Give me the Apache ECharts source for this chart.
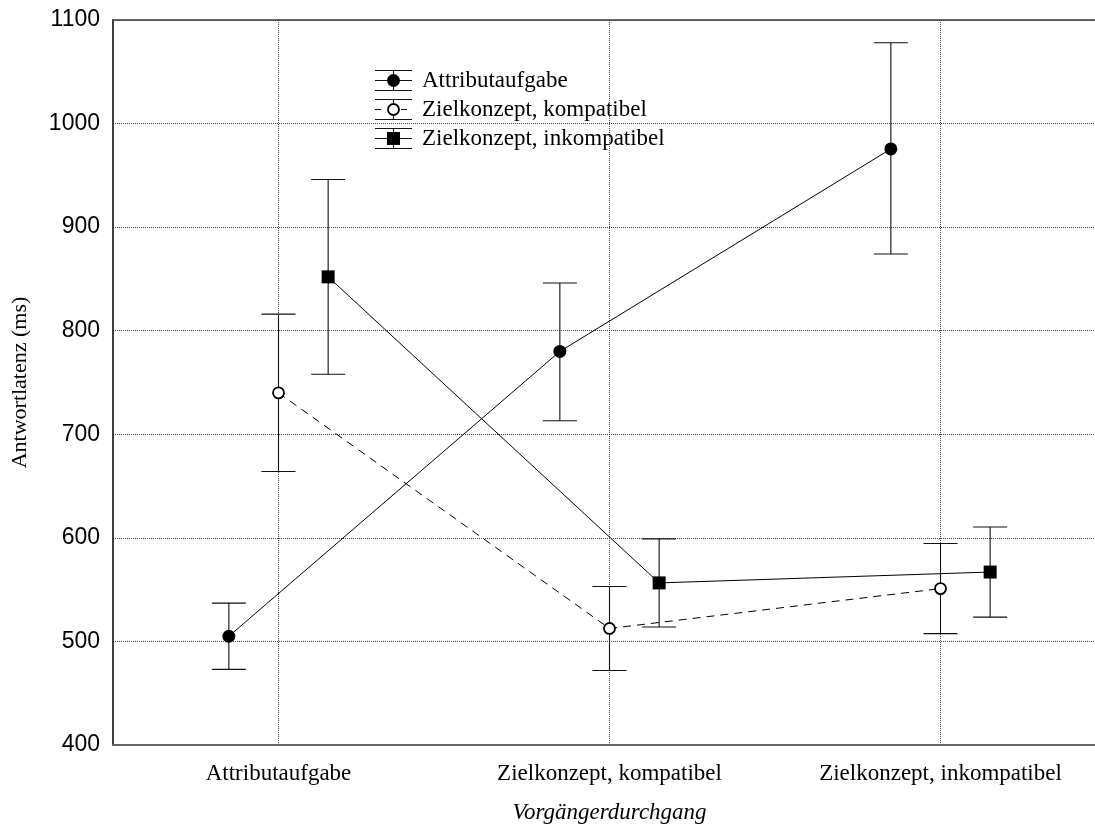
<!DOCTYPE html>
<html>
<head>
<meta charset="utf-8">
<title>Antwortlatenz nach Vorgängerdurchgang</title>
<script src="https://cdn.jsdelivr.net/npm/echarts@6/dist/echarts.min.js"></script>
<style>
  html, body { margin: 0; padding: 0; background: #fff; overflow: hidden; width: 1095px; height: 825px; }
  /* the canvas is a little wider than the page: the plot box runs past the right edge */
  #chart { width: 1110px; height: 825px; }
</style>
</head>
<body>
<div id="chart"></div>
<script>
// Vorgängerdurchgang (x categories)
const categories = ['Attributaufgabe', 'Zielkonzept, kompatibel', 'Zielkonzept, inkompatibel'];

// Mittelwerte und Fehlerbalken (ms), je Bedingung des aktuellen Durchgangs
const seriesNames = ['Attributaufgabe', 'Zielkonzept, kompatibel', 'Zielkonzept, inkompatibel'];

const attributMean = [505, 780, 975.5];
const attributLow = [473, 713, 874];
const attributHigh = [537, 846, 1078];

const kompatibelMean = [740, 512.5, 551];
const kompatibelLow = [664, 472, 507.5];
const kompatibelHigh = [816, 553, 594.5];

const inkompatibelMean = [852, 556.5, 567];
const inkompatibelLow = [758, 514, 523.5];
const inkompatibelHigh = [946, 599, 610.5];

const yTicks = [400, 500, 600, 700, 800, 900, 1000, 1100];

// horizontal shift of each series inside a category slot
const slotOffset = [-0.15, 0, 0.15];

const serif = '"Liberation Serif", "Times New Roman", serif';
const sans = '"Liberation Sans", Arial, sans-serif';

function points(means, k) {
  return means.map((v, i) => [i + 1 + slotOffset[k], v]);
}
function bars(lows, highs, k) {
  return lows.map((lo, i) => [i + 1 + slotOffset[k], lo, highs[i]]);
}

function renderErrorBar(params, api) {
  const x = api.value(0);
  const lo = api.coord([x, api.value(1)]);
  const hi = api.coord([x, api.value(2)]);
  const half = 17;
  const style = { stroke: '#111', lineWidth: 1.1 };
  return {
    type: 'group',
    children: [
      { type: 'line', shape: { x1: lo[0], y1: lo[1], x2: hi[0], y2: hi[1] }, style },
      { type: 'line', shape: { x1: hi[0] - half, y1: hi[1], x2: hi[0] + half, y2: hi[1] }, style },
      { type: 'line', shape: { x1: lo[0] - half, y1: lo[1], x2: lo[0] + half, y2: lo[1] }, style }
    ]
  };
}

const lineSeries = [
  { means: attributMean, lows: attributLow, highs: attributHigh, symbol: 'circle', size: 13, fill: '#000', dash: 'solid' },
  { means: kompatibelMean, lows: kompatibelLow, highs: kompatibelHigh, symbol: 'circle', size: 11, fill: '#fff', dash: [8, 6] },
  { means: inkompatibelMean, lows: inkompatibelLow, highs: inkompatibelHigh, symbol: 'rect', size: 13, fill: '#000', dash: 'solid' }
];

const series = [];
lineSeries.forEach((s, k) => {
  series.push({
    name: seriesNames[k] + ' (Fehler)',
    type: 'custom',
    renderItem: renderErrorBar,
    data: bars(s.lows, s.highs, k),
    encode: { x: 0, y: [1, 2] },
    z: 2,
    silent: true
  });
});
lineSeries.forEach((s, k) => {
  series.push({
    name: seriesNames[k],
    type: 'line',
    data: points(s.means, k),
    symbol: s.symbol,
    symbolSize: s.size,
    showAllSymbol: true,
    lineStyle: { color: '#000', width: 1, type: s.dash },
    itemStyle: { color: s.fill, borderColor: '#000', borderWidth: s.fill === '#fff' ? 1.8 : 0 },
    z: 3,
    silent: true
  });
});

// legend: icon with error-bar caps, line and marker, followed by the series name
const legendX = 393.5, legendTextX = 422, legendRows = [80.5, 109.5, 138.5], legendHalf = 18.5, legendCap = 10;
const legendChildren = [];
lineSeries.forEach((s, k) => {
  const y = legendRows[k];
  const st = { stroke: '#111', lineWidth: 1.1 };
  legendChildren.push(
    { type: 'line', shape: { x1: legendX - legendHalf, y1: y - legendCap, x2: legendX + legendHalf, y2: y - legendCap }, style: st },
    { type: 'line', shape: { x1: legendX - legendHalf, y1: y + legendCap, x2: legendX + legendHalf, y2: y + legendCap }, style: st },
    { type: 'line', shape: { x1: legendX, y1: y - legendCap, x2: legendX, y2: y + legendCap }, style: st },
    { type: 'line', shape: { x1: legendX - legendHalf, y1: y, x2: legendX + legendHalf, y2: y },
      style: { stroke: '#111', lineWidth: 1.1, lineDash: s.dash === 'solid' ? null : [6, 7] } }
  );
  if (s.symbol === 'rect') {
    legendChildren.push({ type: 'rect', shape: { x: legendX - 6.5, y: y - 6.5, width: 13, height: 13 }, style: { fill: '#000' } });
  } else {
    legendChildren.push({ type: 'circle', shape: { cx: legendX, cy: y, r: s.fill === '#fff' ? 5.5 : 6.5 },
      style: { fill: s.fill, stroke: '#000', lineWidth: s.fill === '#fff' ? 1.8 : 0 } });
  }
  legendChildren.push({
    type: 'text', x: legendTextX, y: y,
    style: { text: seriesNames[k], font: '23px ' + serif, fill: '#000', verticalAlign: 'middle', align: 'left' }
  });
});

const chart = echarts.init(document.getElementById('chart'), null, { renderer: 'canvas' });
chart.setOption({
  animation: false,
  backgroundColor: '#fff',
  grid: {
    left: 113, top: 20, bottom: 80, width: 993,
    outerBoundsMode: 'none',
    show: true, borderColor: '#666', borderWidth: 2, backgroundColor: 'transparent'
  },
  xAxis: {
    type: 'value',
    min: 0.5, max: 3.5,
    name: 'Vorgängerdurchgang',
    nameLocation: 'middle',
    nameGap: 56,
    nameTextStyle: { fontFamily: serif, fontStyle: 'italic', fontSize: 23, color: '#000' },
    axisLine: { show: true, lineStyle: { color: '#666', width: 2 } },
    axisTick: { show: false, customValues: [1, 2, 3] },
    axisLabel: {
      customValues: [1, 2, 3],
      formatter: v => categories[Math.round(v) - 1] || '',
      fontFamily: serif, fontSize: 23, color: '#000', margin: 17
    },
    splitLine: { show: true, lineStyle: { color: '#444', width: 1, type: [1, 1] } }
  },
  yAxis: {
    type: 'value',
    min: yTicks[0], max: yTicks[yTicks.length - 1], interval: 100,
    name: 'Antwortlatenz (ms)',
    nameLocation: 'middle',
    nameRotate: 90,
    nameGap: 82,
    nameTextStyle: { fontFamily: serif, fontSize: 22, color: '#000' },
    axisLine: { show: true, lineStyle: { color: '#333', width: 1.5 } },
    axisTick: { show: false },
    axisLabel: { fontFamily: sans, fontSize: 23, color: '#000', margin: 13, formatter: v => String(v) },
    splitLine: { show: true, lineStyle: { color: '#444', width: 1, type: [1, 1] } }
  },
  graphic: [{ type: 'group', children: legendChildren, z: 10 }],
  series: series
});
</script>
</body>
</html>
